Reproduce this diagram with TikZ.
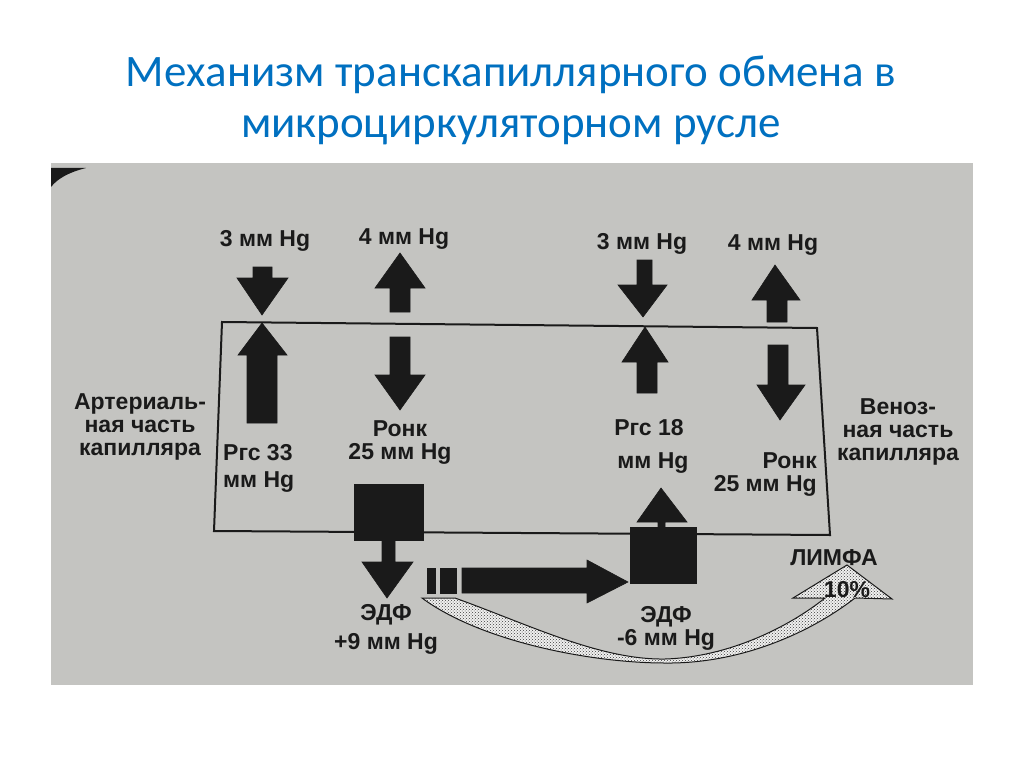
\documentclass[tikz,border=0pt]{standalone}
\usepackage{fontspec}
\usepackage{xcolor,tikz}
\usetikzlibrary{patterns}
\newfontfamily\titlefont{Carlito}
\newfontfamily\diagfont{Liberation Sans}
\definecolor{titleblue}{RGB}{0,112,192}
\definecolor{paper}{RGB}{196,196,193}
\definecolor{ink}{RGB}{26,26,26}
\tikzset{
  title/.style={font=\titlefont\fontsize{45}{51}\selectfont, text=titleblue, align=center, inner sep=0pt},
  lbl/.style={font=\diagfont\bfseries\fontsize{23}{23}\selectfont, text=ink, inner sep=0pt, align=center},
  blk/.style={fill=ink, draw=ink, line width=0.6pt, line join=miter},
  wall/.style={draw=ink, line width=2pt, line join=miter},
  lymph/.style={draw=ink, line width=1pt, preaction={fill=white!75!paper}, pattern=crosshatch dots, pattern color=ink!85}
}

\begin{document}
\begin{tikzpicture}[x=1pt, y=-1pt]
          \useasboundingbox (0,0) rectangle (1024,767);
          \fill[white] (0,0) rectangle (1024,767);
          \node[title] (title) at (511,100) {Механизм транскапиллярного обмена в\\микроциркуляторном русле};

          \fill[paper] (51,163) rectangle (973,685);
          \fill[ink] (51,168) -- (86,168) .. controls (70,172) and (58,178) .. (51,187) -- cycle;

          \draw[wall] (222,322) -- (817,328) -- (830,535) -- (214,531) -- cycle;

          \fill[blk] (253,267) -- (272,267) -- (272,278) -- (288,278) -- (262,315) -- (237,278) -- (253,278) -- cycle;
          \fill[blk] (262,323) -- (287,355) -- (277,355) -- (277,423) -- (247,423) -- (247,355) -- (238,355) -- cycle;
          \fill[blk] (400,253) -- (425,288) -- (410,288) -- (410,312) -- (390,312) -- (390,288) -- (375,288) -- cycle;
          \fill[blk] (390,337) -- (410,337) -- (410,375) -- (425,375) -- (400,410) -- (375,375) -- (390,375) -- cycle;

          \fill[blk] (637,260) -- (652,260) -- (652,285) -- (667,285) -- (643,317) -- (618,285) -- (637,285) -- cycle;
          \fill[blk] (645,327) -- (668,362) -- (657,362) -- (657,393) -- (637,393) -- (637,362) -- (622,362) -- cycle;
          \fill[blk] (775,265) -- (800,300) -- (787,300) -- (787,322) -- (767,322) -- (767,300) -- (752,300) -- cycle;
          \fill[blk] (768,345) -- (788,345) -- (788,385) -- (805,385) -- (780,420) -- (757,385) -- (768,385) -- cycle;

          \fill[blk] (354,484) rectangle (423,540);
          \fill[blk] (382,540) -- (395,540) -- (395,562) -- (413,562) -- (387,598) -- (362,562) -- (382,562) -- cycle;
          \fill[blk] (630,527) rectangle (696,583);
          \fill[blk] (658,527) -- (665,527) -- (665,522) -- (687,522) -- (661,488) -- (637,522) -- (658,522) -- cycle;

          \fill[blk] (427,568) rectangle (435,593);
          \fill[blk] (440,568) rectangle (456,593);
          \fill[blk] (462,568) -- (587,568) -- (587,560) -- (628,582) -- (587,603) -- (587,593) -- (462,593) -- cycle;

          \path[lymph] (422,598) -- (455,598) .. controls (530,625) and (600,660) .. (665,659)
            .. controls (730,657) and (790,626) .. (825,598) -- (793,598) -- (847,565) -- (892,599) -- (855,598)
            .. controls (810,633) and (740,664) .. (665,663) .. controls (590,663) and (480,641) .. (422,598) -- cycle;

          \node[lbl] (pL3) at (265,241) {3 мм Hg};
          \node[lbl] (pL4) at (404,239) {4 мм Hg};
          \node[lbl] (pR3) at (642,244) {3 мм Hg};
          \node[lbl] (pR4) at (773,245) {4 мм Hg};
          \node[lbl] (art) at (140,427) {Артериаль-\\ная часть\\капилляра};
          \node[lbl, anchor=west, align=left] (prcL) at (223,468) {Ргс 33\\[4pt]мм Hg};
          \node[lbl] (onkL) at (400,443) {Ронк\\25 мм Hg};
          \node[lbl] (prcR) at (649,428) {Ргс 18};
          \node[lbl] (prcRu) at (653,463) {мм Hg};
          \node[lbl, anchor=east, align=right] (onkR) at (817,475) {Ронк\\25 мм Hg};
          \node[lbl] (ven) at (898,432) {Веноз-\\ная часть\\капилляра};
          \node[lbl] (edfL) at (386,629) {ЭДФ\\[6pt]+9 мм Hg};
          \node[lbl] (edfR) at (666,628) {ЭДФ\\-6 мм Hg};
          \node[lbl] (lym) at (834,558) {ЛИМФА};
          \node[lbl] (pct) at (847,590) {10\%};
        \end{tikzpicture}
\end{document}
